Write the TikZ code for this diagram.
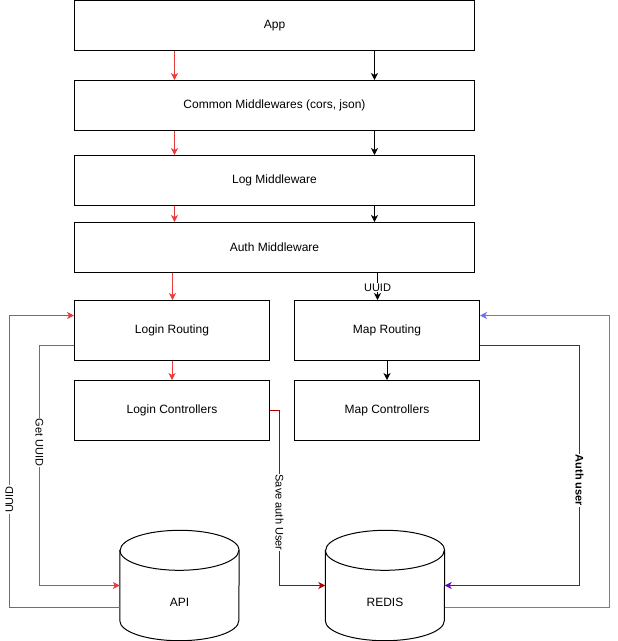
\documentclass[tikz,border=0pt]{standalone}
\usepackage{fontspec}
\setmainfont{Liberation Sans}
\usetikzlibrary{arrows.meta}
\definecolor{cred}{RGB}{234,59,59}
\definecolor{cdred}{RGB}{178,0,0}
\definecolor{cpurple}{RGB}{96,16,160}
\definecolor{cpurhead}{RGB}{102,0,204}
\definecolor{cblue}{RGB}{112,112,232}
\tikzset{
  box/.style={draw=black, line width=1pt, fill=white, rectangle, inner sep=0pt, font=\fontsize{12}{14}\selectfont},
  cylbox/.style={rectangle, inner sep=0pt, minimum width=119pt, minimum height=110pt},
  tip/.style={-{Stealth[length=7pt,width=7pt,inset=2pt]}},
  blk/.style={tip, draw=black, line width=1pt},
  redl/.style={tip, draw=cred, line width=1pt},
  dredl/.style={tip, draw=cdred, line width=1pt},
  purl/.style={tip, draw=cpurple, line width=1pt},
  bluel/.style={tip, draw=cblue, line width=1pt},
  lbl/.style={fill=white, inner sep=1pt, font=\fontsize{11}{13}\selectfont},
  cyltext/.style={font=\fontsize{12}{14}\selectfont, inner sep=0pt}
}
\begin{document}
\begin{tikzpicture}[x=1pt,y=-1pt]
\useasboundingbox (0,0) rectangle (618,641);
\begin{scope}[shift={(0.5,0.5)}]
% boxes
\node[box, minimum width=400pt, minimum height=50pt] (app) at (274,25) {App};
\node[box, minimum width=400pt, minimum height=50pt] (common) at (274,105) {Common Middlewares (cors, json)};
\node[box, minimum width=400pt, minimum height=50pt] (log) at (274,180) {Log Middleware};
\node[box, minimum width=400pt, minimum height=50pt] (auth) at (274,247) {Auth Middleware};
\node[box, minimum width=195pt, minimum height=60pt] (loginr) at (171.5,330) {Login Routing};
\node[box, minimum width=195pt, minimum height=60pt] (loginc) at (171.5,410) {Login Controllers};
\node[box, minimum width=185pt, minimum height=60pt] (mapr) at (386.5,330) {Map Routing};
\node[box, minimum width=185pt, minimum height=60pt] (mapc) at (386.5,410) {Map Controllers};
% cylinders
\node[cylbox] (api) at (179,585) {};
\node[cylbox] (redis) at (384.5,585) {};
\foreach \c in {api,redis}{
  \draw[line width=1pt, fill=white] ([yshift=-20pt]\c.north west) -- ([yshift=20pt]\c.south west)
    arc[start angle=180, end angle=360, x radius=59.5pt, y radius=20pt]
    -- ([yshift=-20pt]\c.north east)
    arc[start angle=0, end angle=180, x radius=59.5pt, y radius=20pt] -- cycle;
  \draw[line width=1pt] ([yshift=-20pt]\c.north west)
    arc[start angle=180, end angle=360, x radius=59.5pt, y radius=20pt];
}
\node[cyltext] (apit) at ([yshift=-17pt]api.center) {API};
\node[cyltext] (redist) at ([yshift=-17pt]redis.center) {REDIS};
% helper coordinates
\coordinate (xr) at (174,0);
\coordinate (xr2) at (172,0);
\coordinate (xb) at (374,0);
\coordinate (xu) at (377,0);
\coordinate (y315) at (0,315);
\coordinate (y345) at (0,345);
\coordinate (y607) at (0,607);
% vertical chain arrows
\draw[redl] (app.south -| xr) -- (common.north -| xr);
\draw[redl] (common.south -| xr) -- (log.north -| xr);
\draw[redl] (log.south -| xr) -- (auth.north -| xr);
\draw[redl] (auth.south -| xr2) -- (loginr.north -| xr2);
\draw[redl] (loginr.south) -- (loginc.north);
\draw[blk] (app.south -| xb) -- (common.north -| xb);
\draw[blk] (common.south -| xb) -- (log.north -| xb);
\draw[blk] (log.south -| xb) -- (auth.north -| xb);
\draw[blk] (auth.south -| xu) -- (mapr.north -| xu);
\node[lbl, fill=white, inner sep=0.5pt] (uuidtop) at (377,287) {UUID};
\draw[blk] (mapr.south) -- (mapc.north);
% left side
\draw[redl] (api.west |- y607) -- (9,607) -- (9,315) -- (loginr.west |- y315);
\node[lbl, rotate=90] (uuidl) at (9,499) {UUID};
\draw[redl] (loginr.west |- y345) -- (39,345) -- (39,585) -- (api.west);
\node[lbl, rotate=-90] (getuuid) at (39,442) {Get UUID};
\draw[dredl] (loginc.east) -- (279,410) -- (279,585) -- (redis.west);
\node[lbl, rotate=-90] (saveauth) at (279,512) {Save auth User};
% right side
\draw[bluel] (redis.east |- y607) -- (609,607) -- (609,315) -- (mapr.east |- y315);
\draw[purl, -{Stealth[length=7pt,width=7pt,inset=2pt,color=cpurhead]}] (mapr.east |- y345) -- (579,345) -- (579,585) -- (redis.east);
\node[lbl, rotate=-90, font=\fontsize{11}{13}\selectfont\bfseries] (authuser) at (579,480) {Auth user};
\end{scope}
\end{tikzpicture}
\end{document}
